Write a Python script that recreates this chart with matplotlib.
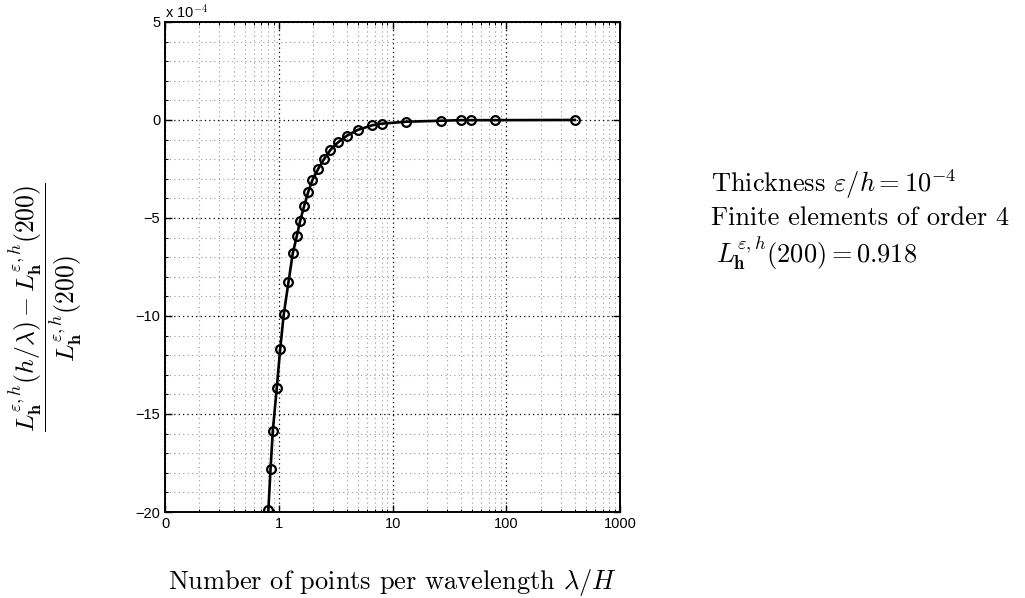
import matplotlib
matplotlib.use("Agg")
import matplotlib.pyplot as plt
import numpy as np
from matplotlib.ticker import FixedLocator, FixedFormatter, LogLocator, NullFormatter

plt.rcParams["mathtext.fontset"] = "cm"
plt.rcParams["font.family"] = ["Liberation Sans", "DejaVu Sans"]

# points per wavelength, relative error (x 1e-4)
pts_per_wavelength = [0.81, 0.846, 0.886, 0.96, 1.029, 1.106, 1.216, 1.327, 1.439, 1.541,
                      1.67, 1.81, 1.976, 2.218, 2.50, 2.84, 3.32, 3.98, 4.93, 6.64,
                      8.01, 13.1, 26.6, 39.8, 49.0, 79.0, 400.0]
rel_error = [-19.9, -17.81, -15.85, -13.66, -11.68, -9.90, -8.28, -6.80, -5.93, -5.14,
             -4.39, -3.69, -3.06, -2.50, -1.99, -1.53, -1.14, -0.80, -0.51, -0.27,
             -0.19, -0.09, -0.04, -0.01, -0.01, -0.01, 0.0]

x_ticks = [0.1, 1, 10, 100, 1000]
x_tick_labels = ["0", "1", "10", "100", "1000"]
y_ticks = [-20, -15, -10, -5, 0, 5]

fig = plt.figure(figsize=(10.25, 5.98), dpi=100)
ax = fig.add_axes([0.161, 0.1438, 0.444, 0.8195])

ax.plot(pts_per_wavelength, rel_error, color="black", lw=1.9, marker="o",
        markersize=6.3, markerfacecolor="none", markeredgewidth=1.6, zorder=3)

ax.set_xscale("log")
ax.set_xlim(0.1, 1000)
ax.set_ylim(-20, 5)
ax.xaxis.set_major_locator(FixedLocator(x_ticks))
ax.xaxis.set_major_formatter(FixedFormatter(x_tick_labels))
ax.xaxis.set_minor_locator(LogLocator(base=10, subs=np.arange(2, 10), numticks=20))
ax.xaxis.set_minor_formatter(NullFormatter())
ax.set_yticks(y_ticks)
ax.set_yticks(np.arange(-20, 6, 1), minor=True)

ax.grid(which="major", color="black", linestyle=(0, (1, 2.5)), linewidth=0.9)
ax.grid(which="minor", color="#999999", linestyle=(0, (1, 3)), linewidth=0.8)
ax.set_axisbelow(True)

ax.tick_params(which="both", direction="in", top=True, right=True, labelsize=10.5)
ax.tick_params(which="major", length=5, width=1)
ax.tick_params(which="minor", length=2.5, width=0.7)
for s in ax.spines.values():
    s.set_linewidth(1.4)

fig.text(0.161, 0.966, r"x 10$^{-4}$", fontsize=10.5, ha="left", va="bottom",
         family=["Liberation Sans", "DejaVu Sans"])

ax.set_xlabel(r"Number of points per wavelength $\lambda/H$", family="cmr10",
              fontsize=19, labelpad=26)
fig.text(0.045, 0.487,
         r"$\dfrac{L^{\varepsilon,h}_{\mathbf{h}}(h/\lambda)-L^{\varepsilon,h}_{\mathbf{h}}(200)}"
         r"{L^{\varepsilon,h}_{\mathbf{h}}(200)}$",
         rotation=90, fontsize=18.5, ha="center", va="center")

fig.text(0.694, 0.692, r"Thickness $\varepsilon/h=10^{-4}$", family="cmr10", fontsize=19,
         ha="left", va="center")
fig.text(0.694, 0.636, "Finite elements of order 4", family="cmr10", fontsize=19,
         ha="left", va="center")
fig.text(0.699, 0.578, r"$L^{\varepsilon,h}_{\mathbf{h}}(200)=0.918$", fontsize=19,
         ha="left", va="center")

fig.savefig("out.png", dpi=100)
